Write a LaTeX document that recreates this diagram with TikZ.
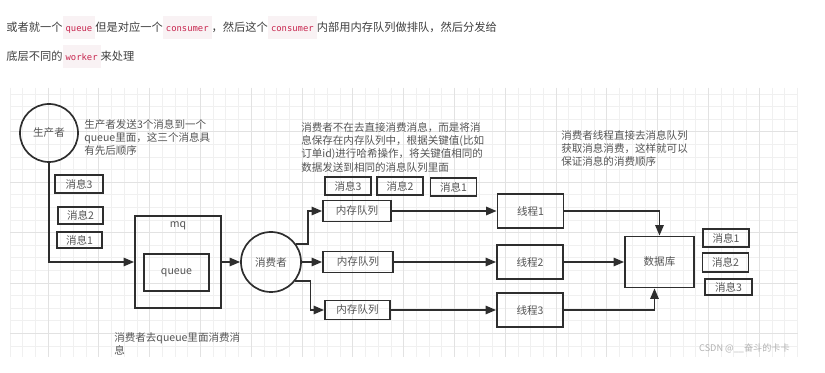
\documentclass[tikz,border=0pt]{standalone}
\usepackage{fontspec}
\setmainfont{Noto Sans CJK SC}
\setmonofont{DejaVu Sans Mono}
\usetikzlibrary{arrows.meta,positioning}
\definecolor{codefg}{HTML}{C7254E}
\definecolor{codebg}{HTML}{F9F2F4}
\definecolor{headtxt}{HTML}{3F3F3F}
\definecolor{figtxt}{HTML}{555555}
\definecolor{figln}{HTML}{2E2E2E}
\definecolor{gridmin}{HTML}{F0F0F0}
\definecolor{gridmaj}{HTML}{E2E2E2}
\newcommand{\codeword}[1]{{\setlength{\fboxsep}{0pt}\colorbox{codebg}{\rule[-5.2pt]{0pt}{16.3pt}\hspace{2.2pt}{\ttfamily\fontsize{6.3pt}{8pt}\selectfont\color{codefg}#1}\hspace{2.2pt}}}}

\begin{document}
\begin{tikzpicture}[x=0.025cm,y=-0.025cm,>={Triangle[length=7.5pt,width=6pt]},
  head/.style={inner sep=0,font=\fontsize{8pt}{10pt}\selectfont,text=headtxt},
  note/.style={inner sep=0,anchor=north west,align=left,font=\fontsize{7.5pt}{9.5pt}\selectfont,text=figtxt},
  bx/.style={draw=figln,line width=1.3pt,inner sep=0,font=\fontsize{7.5pt}{9pt}\selectfont,text=figtxt},
  msg/.style={bx,minimum width=1.15cm,minimum height=0.45cm},
  memq/.style={bx,minimum width=1.7cm,minimum height=0.525cm},
  worker/.style={bx,minimum width=1.65cm,minimum height=0.85cm},
  role/.style={bx,circle,line width=1.2pt},
  ln/.style={->,figln,line width=1.15pt},
  gl/.style={gridmin,line width=0.7pt},
  glmaj/.style={gridmaj,line width=0.7pt}]
\useasboundingbox (0,0) rectangle (825,373);
\fill[white] (0,0) rectangle (825,373);
% text above the figure
\node[head,anchor=base west] (hd1) at (6,32) {或者就一个\codeword{queue}但是对应一个\codeword{consumer}，然后这个\codeword{consumer}内部用内存队列做排队，然后分发给};
\node[head,anchor=base west] (hd2) at (6,61) {底层不同的\codeword{worker}来处理};
% grid paper
\foreach \k in {0,...,62} \draw[gl] ({10+12.7*\k},88) -- ({10+12.7*\k},357);
\foreach \k in {0,...,20} \draw[gl] (10,{94+12.6*\k}) -- (798,{94+12.6*\k});
\foreach \k in {3,7,...,59} \draw[glmaj] ({10+12.7*\k},88) -- ({10+12.7*\k},357);
\foreach \k in {3,7,...,19} \draw[glmaj] (10,{94+12.6*\k}) -- (798,{94+12.6*\k});
% producer and mq
\node[role,minimum size=1.45cm] (prod) at (49,133) {生产者};
\node[note] (prodnote) at (84,119) {生产者发送3个消息到一个\\queue里面，这三个消息具\\有先后顺序};
\node[msg,minimum width=1.2cm] (pm3) at (79,184) {消息3};
\node[msg,minimum width=1.125cm,minimum height=0.425cm] (pm2) at (80.5,215.5) {消息2};
\node[msg,minimum width=1.125cm,minimum height=0.4cm] (pm1) at (79.5,240) {消息1};
\node[bx,minimum width=2.15cm,minimum height=2.3cm] (mq) at (178,262) {};
\node[bx,draw=none] (mqname) at (178,226) {mq};
\node[bx,minimum width=1.625cm,minimum height=0.925cm] (queue) at (176.5,272.5) {queue};
\node[note] (mqnote) at (114,332) {消费者去queue里面消费消\\息};
% consumer with its memory queues
\node[role,minimum size=1.5cm] (cons) at (271,262) {消费者};
\node[note] (consnote) at (301,122) {消费者不在去直接消费消息，而是将消\\息保存在内存队列中，根据关键值(比如\\订单id)进行哈希操作，将关键值相同的\\数据发送到相同的消息队列里面};
\node[msg] (cm3) at (348,186) {消息3};
\node[msg] (cm2) at (400,186) {消息2};
\node[msg] (cm1) at (453.5,187) {消息1};
\node[memq] (q1) at (357,211) {内存队列};
\node[memq,minimum width=1.75cm] (q2) at (358,262) {内存队列};
\node[memq,minimum width=1.625cm,minimum height=0.475cm] (q3) at (357.5,310) {内存队列};
\node[worker] (t1) at (530.5,211) {线程1};
\node[worker] (t2) at (530,262) {线程2};
\node[worker] (t3) at (530,310) {线程3};
% database
\node[note] (dbnote) at (561,130) {消费者线程直接去消息队列\\获取消息消费，这样就可以\\保证消息的消费顺序};
\node[bx,minimum width=1.725cm,minimum height=1.275cm] (db) at (659.5,262) {数据库};
\node[msg] (dm1) at (726,238) {消息1};
\node[msg,minimum height=0.475cm] (dm2) at (725.5,262.5) {消息2};
\node[msg,minimum width=1.175cm,minimum height=0.4cm] (dm3) at (728.5,287) {消息3};
\node[font=\fontsize{6.5pt}{8pt}\selectfont,text=black!30,anchor=east,inner sep=0] (mark) at (790,348) {CSDN @\_\_奋斗的卡卡};
% links
\draw[ln] (prod.south) |- (mq.west);
\draw[ln] (mq.east) -- (cons.west);
\draw[ln] (cons.35) -- ++(12,0) |- (q1.west);
\draw[ln] (cons.east) -- (q2.west);
\draw[ln] (cons.-38) -- ++(15,0) |- (q3.west);
\foreach \i in {1,2,3} \draw[ln] (q\i.east) -- (t\i.west);
\draw[ln] (t1.east) -| (db.north);
\draw[ln] (t2.east) -- (db.west);
\draw[ln] (t3.east) -| ([xshift=-0.125cm]db.south);
\end{tikzpicture}
\end{document}
